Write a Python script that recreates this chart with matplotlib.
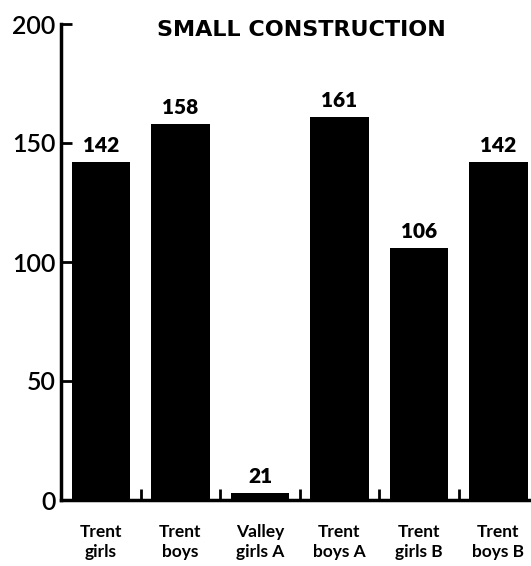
import matplotlib
matplotlib.use("Agg")
import matplotlib.pyplot as plt

# Data
groups = ["Trent\ngirls", "Trent\nboys", "Valley\ngirls A", "Trent\nboys A", "Trent\ngirls B", "Trent\nboys B"]
values = [142, 158, 21, 161, 106, 142]
# the "21" bar is drawn almost flat in the original
bar_heights = [142, 158, 3, 161, 106, 142]
y_ticks = [0, 50, 100, 150, 200]

plt.rcParams["font.family"] = ["Lato", "DejaVu Sans"]

fig = plt.figure(figsize=(5.31, 5.66), dpi=100)
ax = fig.add_axes([61 / 531, 66 / 566, 1 - 61 / 531, 476 / 566])

x = list(range(len(groups)))
ax.bar(x, bar_heights, width=0.74, color="black")

# value labels above the bars
for xi, h, v in zip(x, bar_heights, values):
    ax.text(xi, h + 3, str(v), ha="center", va="bottom",
            fontsize=15, fontweight="heavy")

ax.set_xlim(-0.503, 5.41)
ax.set_ylim(0, 200)

ax.set_yticks(y_ticks)
ax.set_yticklabels([str(t) for t in y_ticks], fontweight="semibold")
ax.tick_params(axis="y", direction="in", length=8, width=2, labelsize=18, pad=4)

ax.set_xticks(x)
ax.set_xticklabels(groups, fontsize=12.5, fontweight="bold", linespacing=1.32)
ax.tick_params(axis="x", which="major", length=0, pad=17)
ax.set_xticks([i + 0.5 for i in range(len(groups) - 1)], minor=True)
ax.tick_params(axis="x", which="minor", direction="in", length=8, width=2)

for s in ["top", "right"]:
    ax.spines[s].set_visible(False)
ax.spines["left"].set_linewidth(2.5)
ax.spines["bottom"].set_linewidth(2.5)

fig.text(301 / 531, 1 - 30 / 566, "SMALL CONSTRUCTION", family="DejaVu Sans",
         ha="center", va="center", fontsize=16, fontweight="bold")

plt.savefig("out.png", dpi=100)
